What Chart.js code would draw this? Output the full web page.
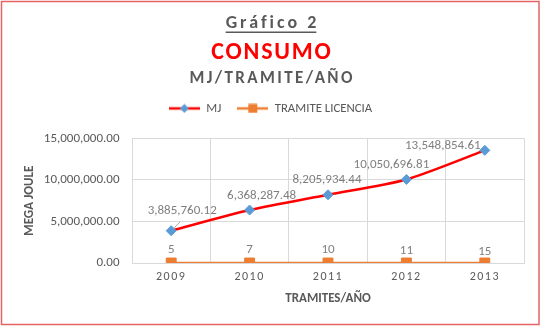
<!DOCTYPE html>
<html><head><meta charset="utf-8">
<script src="https://cdn.jsdelivr.net/npm/chart.js@4/dist/chart.umd.min.js"></script>
<style>html,body{margin:0;padding:0;background:#fff}#wrap{width:541px;height:331px;position:relative}</style>
</head><body><div id="wrap"><canvas id="c" width="541" height="331"></canvas></div>
<script>
const years = ['2009', '2010', '2011', '2012', '2013'];
const mjValues = [3885760.12, 6368287.48, 8205934.44, 10050696.81, 13548854.61];
const tramiteValues = [5, 7, 10, 11, 15];
const seriesNames = ['MJ', 'TRAMITE LICENCIA'];
const titleLines = ['Gráfico 2', 'CONSUMO', 'MJ/TRAMITE/AÑO'];
const yAxisTitle = 'MEGA JOULE';
const xAxisTitle = 'TRAMITES/AÑO';

const GRAY = '#595959';
const RED = '#FF0000';
const BLUE = '#5B9BD5';
const ORANGE = '#ED7D31';
const FONT = 'Carlito, Lato, "Open Sans", sans-serif';

function legendIcon(lineColor, markerColor, shape) {
  const cv = document.createElement('canvas');
  cv.width = 31; cv.height = 10;
  const g = cv.getContext('2d');
  g.strokeStyle = lineColor; g.lineWidth = 2.5;
  g.beginPath(); g.moveTo(0, 5); g.lineTo(31, 5); g.stroke();
  g.fillStyle = markerColor;
  g.beginPath();
  if (shape === 'diamond') { g.moveTo(15.5, 0.5); g.lineTo(20, 5); g.lineTo(15.5, 9.5); g.lineTo(11, 5); g.closePath(); }
  else { g.rect(11, 0.5, 9, 9); }
  g.fill();
  return cv;
}

const headerPlugin = {
  id: 'header',
  afterDraw(chart) {
    const ctx = chart.ctx;
    ctx.save();
    const cx = 271;
    ctx.textAlign = 'center';
    ctx.textBaseline = 'alphabetic';
    ctx.letterSpacing = '3px';
    ctx.font = 'bold 18px ' + FONT;
    ctx.fillStyle = GRAY;
    ctx.fillText(titleLines[0], cx + 1.5, 28);
    const w = ctx.measureText(titleLines[0]).width - 3;
    ctx.fillRect(cx - w / 2, 31.5, w, 1.5);
    ctx.letterSpacing = '1.8px';
    ctx.font = 'bold 24px ' + FONT;
    ctx.fillStyle = RED;
    ctx.fillText(titleLines[1], cx + 0.9, 58.5);
    ctx.letterSpacing = '2.4px';
    ctx.font = 'bold 17px ' + FONT;
    ctx.fillStyle = GRAY;
    ctx.fillText(titleLines[2], cx + 1.2, 82.5);
    ctx.letterSpacing = '0px';
    ctx.strokeStyle = '#E46464';
    ctx.lineWidth = 1.5;
    ctx.strokeRect(1.5, 1.5, 537.5, 323);
    ctx.restore();
  }
};

const labelPlugin = {
  id: 'pointLabels',
  afterDatasetsDraw(chart, args, opts) {
    const ctx = chart.ctx;
    ctx.save();
    ctx.font = '13px ' + FONT;
    ctx.textAlign = 'center';
    ctx.textBaseline = 'middle';
    chart.data.datasets.forEach((ds, di) => {
      const meta = chart.getDatasetMeta(di);
      const offs = opts.offsets[di];
      meta.data.forEach((pt, i) => {
        const v = ds.data[i];
        const txt = di === 0 ? v.toLocaleString('en-US', {minimumFractionDigits: 2, maximumFractionDigits: 2}) : String(v);
        const o = offs[i];
        if (di === 0 && i === 0) {
          ctx.strokeStyle = '#A6A6A6'; ctx.lineWidth = 1;
          ctx.beginPath(); ctx.moveTo(pt.x + 9, pt.y - 9); ctx.lineTo(pt.x + 3, pt.y - 3); ctx.stroke();
        }
        ctx.fillStyle = '#7F7F7F';
        ctx.fillText(txt, pt.x + o[0], pt.y + o[1]);
      });
    });
    ctx.restore();
  }
};

const tweakPlugin = {
  id: 'tweaks',
  afterInit(chart) {
    const lg = chart.legend;
    if (lg && !lg._patched) {
      const f = lg.fit.bind(lg);
      lg.fit = function () { f(); this.height += 13.5; };
      lg._patched = true;
    }
  },
  beforeDraw(chart) {
    const sc = chart.scales.x;
    if (!sc._patched) {
      const orig = sc.drawLabels.bind(sc);
      sc.drawLabels = function (area) {
        const c = this.ctx; c.save(); c.letterSpacing = '1.5px'; orig(area); c.restore();
      };
      sc._patched = true;
    }
  }
};

new Chart(document.getElementById('c'), {
  type: 'line',
  data: {
    labels: years,
    datasets: [
      { label: seriesNames[0], data: mjValues, borderColor: RED, borderWidth: 2.5, tension: 0.25,
        pointStyle: 'rectRot', pointRadius: 5, pointBackgroundColor: BLUE, pointBorderColor: BLUE, pointBorderWidth: 1 },
      { label: seriesNames[1], data: tramiteValues, borderColor: ORANGE, borderWidth: 2.5,
        pointStyle: 'rect', pointRadius: 7, pointBackgroundColor: ORANGE, pointBorderColor: ORANGE, pointBorderWidth: 1 }
    ]
  },
  options: {
    responsive: false,
    animation: false,
    layout: { padding: { top: 86, left: 17, right: 17, bottom: 24 } },
    plugins: {
      legend: {
        position: 'top',
        labels: {
          usePointStyle: true, pointStyleWidth: 31, padding: 16,
          font: { family: FONT, size: 12.8 }, color: GRAY,
          generateLabels: (chart) => [
            { text: seriesNames[0], pointStyle: legendIcon(RED, BLUE, 'diamond'), fontColor: GRAY, datasetIndex: 0, lineWidth: 0, strokeStyle: 'transparent', fillStyle: 'transparent' },
            { text: seriesNames[1], pointStyle: legendIcon(ORANGE, ORANGE, 'square'), fontColor: GRAY, datasetIndex: 1, lineWidth: 0, strokeStyle: 'transparent', fillStyle: 'transparent' }
          ]
        }
      },
      tooltip: { enabled: false },
      pointLabels: {
        offsets: [
          [[11, -20], [12, -14], [-1, -15], [-15, -15], [-42, -5]],
          [[0, -13], [0, -13], [0, -13], [0, -12], [0, -11]]
        ]
      }
    },
    scales: {
      x: {
        offset: true,
        grid: { offset: true, color: '#D9D9D9', drawTicks: false },
        border: { color: '#D9D9D9' },
        ticks: { color: GRAY, font: { family: FONT, size: 12 }, padding: 7 },
        title: { display: true, text: xAxisTitle, color: GRAY, font: { family: FONT, size: 13, weight: 'bold' }, padding: { top: 0, bottom: 0 } }
      },
      y: {
        min: 0, max: 15000000,
        afterFit: (scale) => { scale.width = 115; },
        grid: { color: '#D9D9D9', drawTicks: false },
        border: { color: '#D9D9D9' },
        ticks: { stepSize: 5000000, color: GRAY, font: { family: FONT, size: 13 }, padding: 12.5,
          callback: (v) => Number(v).toLocaleString('en-US', {minimumFractionDigits: 2, maximumFractionDigits: 2}) },
        title: { display: true, text: yAxisTitle, color: GRAY, font: { family: FONT, size: 13, weight: 'bold' }, padding: 5 }
      }
    }
  },
  plugins: [headerPlugin, labelPlugin, tweakPlugin]
});
</script>
</body></html>
